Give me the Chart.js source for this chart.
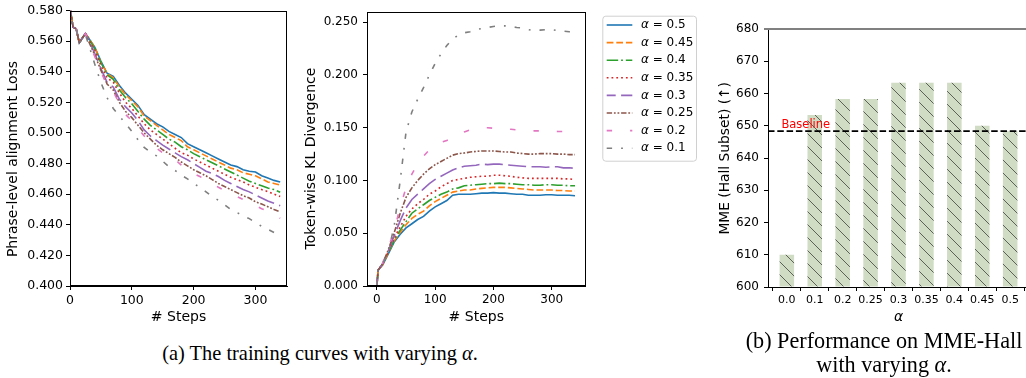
<!DOCTYPE html>
<html><head><meta charset="utf-8">
<script src="https://cdn.jsdelivr.net/npm/chart.js@4.4.0/dist/chart.umd.min.js"></script>
<style>
html,body{margin:0;padding:0;background:#fff;width:1026px;height:378px;overflow:hidden;position:relative;}
canvas{position:absolute;}
.cap{position:absolute;font-family:"Liberation Serif","Times New Roman",serif;color:#000;white-space:nowrap;transform:translateX(-50%);line-height:24px;text-align:center}
</style></head><body>
<canvas id="cLoss" width="300" height="330" style="left:0;top:0"></canvas>
<canvas id="cKL" width="420" height="330" style="left:290px;top:0"></canvas>
<canvas id="cMME" width="330" height="330" style="left:700px;top:0"></canvas>
<div class="cap" style="left:320px;top:341px;font-size:20.4px">(a) The training curves with varying <i>α</i>.</div>
<div class="cap" style="left:884px;top:329px;font-size:22.2px">(b) Performance on MME-Hall<br>with varying <i>α</i>.</div>
<script>
// ---------- data ----------
const alphaLabels = ['0.5','0.45','0.4','0.35','0.3','0.25','0.2','0.1'];

const lossSteps = [0,5,10,15,20,25,30,40,50,60,70,80,90,100,110,120,130,140,150,160,170,180,190,200,210,220,230,240,250,260,270,280,290,300,310,320,330,340];
const loss05  = [0.582,0.569,0.568,0.559,0.562,0.565,0.562,0.556,0.547,0.539,0.537,0.531,0.526,0.522,0.518,0.512,0.509,0.506,0.504,0.501,0.499,0.497,0.493,0.491,0.489,0.487,0.485,0.483,0.481,0.479,0.478,0.476,0.475,0.4745,0.472,0.4705,0.469,0.468];
const loss045 = [0.582,0.569,0.568,0.559,0.562,0.565,0.562,0.556,0.546,0.539,0.536,0.530,0.525,0.521,0.517,0.511,0.508,0.505,0.502,0.499,0.497,0.495,0.491,0.489,0.487,0.485,0.483,0.481,0.479,0.477,0.476,0.474,0.473,0.472,0.470,0.468,0.467,0.466];
const loss04  = [0.582,0.569,0.568,0.559,0.562,0.565,0.562,0.555,0.546,0.538,0.535,0.528,0.523,0.519,0.514,0.509,0.505,0.502,0.499,0.496,0.494,0.491,0.489,0.4865,0.4845,0.4825,0.4805,0.4785,0.4765,0.4745,0.4725,0.4705,0.4685,0.467,0.4655,0.464,0.463,0.4612];
const loss035 = [0.582,0.569,0.568,0.559,0.562,0.565,0.561,0.554,0.544,0.536,0.533,0.526,0.520,0.516,0.511,0.506,0.502,0.499,0.496,0.493,0.490,0.487,0.4855,0.483,0.481,0.479,0.477,0.475,0.473,0.471,0.4695,0.468,0.466,0.4645,0.463,0.4617,0.460,0.4585];
const loss03  = [0.582,0.569,0.568,0.559,0.562,0.565,0.561,0.552,0.542,0.533,0.530,0.522,0.517,0.513,0.508,0.502,0.498,0.495,0.492,0.4895,0.487,0.4845,0.4825,0.480,0.4775,0.475,0.4735,0.4715,0.469,0.467,0.465,0.463,0.4615,0.4595,0.4575,0.4555,0.454,0.4525];
const loss025 = [0.582,0.569,0.568,0.559,0.562,0.565,0.560,0.551,0.541,0.532,0.528,0.520,0.514,0.510,0.505,0.500,0.496,0.492,0.489,0.4865,0.484,0.481,0.4785,0.476,0.474,0.472,0.4695,0.467,0.465,0.463,0.461,0.459,0.4575,0.455,0.4535,0.4518,0.450,0.4485];
const loss02  = [0.582,0.569,0.568,0.559,0.562,0.565,0.560,0.550,0.540,0.531,0.527,0.519,0.512,0.508,0.503,0.498,0.494,0.490,0.487,0.4845,0.4825,0.479,0.476,0.4735,0.4715,0.4695,0.467,0.4645,0.4625,0.4605,0.4585,0.4565,0.4545,0.4525,0.4505,0.449,0.4465,0.4442];
const loss01  = [0.582,0.568,0.568,0.559,0.561,0.564,0.558,0.545,0.533,0.523,0.516,0.511,0.506,0.501,0.4955,0.4905,0.4875,0.485,0.4815,0.478,0.4755,0.4725,0.470,0.467,0.4645,0.4615,0.4585,0.456,0.453,0.450,0.448,0.446,0.444,0.4415,0.439,0.437,0.435,0.4325];

const klSteps = [0,2,10,20,30,40,50,60,70,80,90,100,110,120,130,140,150,160,170,180,190,200,210,220,230,240,250,260,270,280,290,300,310,320,330,340];
const kl05  = [0,0.015,0.020,0.031,0.042,0.049,0.055,0.059,0.063,0.066,0.071,0.075,0.078,0.081,0.086,0.087,0.087,0.087,0.0875,0.088,0.088,0.0885,0.088,0.088,0.0875,0.087,0.087,0.086,0.086,0.086,0.0865,0.0865,0.086,0.086,0.086,0.0855];
const kl045 = [0,0.015,0.020,0.032,0.043,0.051,0.058,0.064,0.068,0.071,0.076,0.080,0.083,0.086,0.089,0.090,0.091,0.091,0.092,0.0925,0.093,0.0935,0.0935,0.0935,0.093,0.0925,0.092,0.0915,0.091,0.091,0.091,0.091,0.0905,0.0905,0.090,0.090];
const kl04  = [0,0.015,0.021,0.032,0.044,0.053,0.061,0.069,0.073,0.077,0.081,0.084,0.087,0.089,0.092,0.093,0.095,0.0955,0.096,0.0965,0.097,0.097,0.0975,0.097,0.097,0.0965,0.096,0.096,0.0955,0.0955,0.096,0.096,0.0955,0.0955,0.095,0.095];
const kl035 = [0,0.015,0.021,0.033,0.046,0.056,0.066,0.073,0.078,0.082,0.087,0.090,0.094,0.097,0.100,0.101,0.102,0.103,0.1035,0.104,0.104,0.105,0.105,0.1045,0.104,0.103,0.1025,0.102,0.102,0.102,0.102,0.102,0.102,0.1015,0.1015,0.101];
const kl03  = [0,0.015,0.021,0.034,0.048,0.062,0.074,0.082,0.087,0.092,0.097,0.101,0.104,0.107,0.110,0.112,0.1135,0.114,0.1145,0.1155,0.115,0.1155,0.1155,0.115,0.1145,0.114,0.1135,0.113,0.113,0.113,0.1125,0.113,0.113,0.112,0.112,0.1115];
const kl025 = [0,0.015,0.021,0.035,0.051,0.069,0.084,0.093,0.100,0.106,0.111,0.115,0.118,0.121,0.124,0.1255,0.126,0.127,0.1275,0.128,0.128,0.128,0.1275,0.127,0.127,0.126,0.1255,0.125,0.125,0.1255,0.1255,0.1255,0.125,0.125,0.1245,0.1245];
const kl02  = [0,0.015,0.022,0.037,0.053,0.075,0.093,0.106,0.116,0.123,0.129,0.133,0.136,0.138,0.140,0.143,0.146,0.148,0.149,0.150,0.150,0.1495,0.149,0.149,0.1485,0.148,0.148,0.1475,0.147,0.147,0.147,0.147,0.1465,0.1465,0.1465,0.146];
const kl01  = [0,0.015,0.021,0.033,0.058,0.100,0.146,0.165,0.177,0.188,0.200,0.211,0.220,0.228,0.234,0.238,0.240,0.241,0.243,0.244,0.245,0.246,0.2465,0.2465,0.246,0.245,0.2445,0.243,0.242,0.2425,0.243,0.243,0.242,0.2415,0.241,0.241];

const stepTicks = [0,100,200,300];
const lossYTicks = [0.40,0.42,0.44,0.46,0.48,0.50,0.52,0.54,0.56,0.58];
const klYTicks = [0,0.05,0.10,0.15,0.20,0.25];

const mmeCats = ['0.0','0.1','0.2','0.25','0.3','0.35','0.4','0.45','0.5'];
const mmeScores = [610,653.33,658.33,658.33,663.33,663.33,663.33,650,648.33];
const mmeYTicks = [600,610,620,630,640,650,660,670,680];
const baselineScore = 648.33;

// ---------- styles ----------
const colors = ['#1f77b4','#ff7f0e','#2ca02c','#d62728','#9467bd','#8c564b','#e377c2','#7f7f7f'];
const dashes = [[],[6.7,2.9],[11.5,2.9,1.8,2.9],[1.8,3],[18,5.4],[5.4,1.8,1.8,1.8,1.8,1.8],[5.4,18],[5.4,9,1.8,9]];
const dashOffsets = [0,0,0,0,9,0,0,0];
const FONT = 'DejaVu Sans';

function makeLines(steps, series){
  return series.map((vals,i)=>({
    label:'α = '+alphaLabels[i],
    data: steps.map((s,k)=>({x:s,y:vals[k]})),
    borderColor: colors[i], backgroundColor: colors[i],
    borderWidth:1.6, borderDash: dashes[i], borderDashOffset: dashOffsets[i],
    borderCapStyle:'butt', pointRadius:0, tension:0, fill:false, order: 7-i
  }));
}

// ---------- plugins ----------
const frame = {id:'frame', afterDraw(chart, args, o){
  if(!o || !o.box) return;
  const {ctx, chartArea:a} = chart;
  ctx.save(); ctx.strokeStyle='#000'; ctx.lineWidth=1; ctx.setLineDash([]);
  const l=Math.round(a.left)+0.5, t=Math.round(a.top)+0.5, r=Math.round(a.right)-0.5, b=Math.round(a.bottom)-0.5;
  ctx.strokeRect(l,t,r-l,b-t);
  ctx.restore();
}};
const sideTitle = {id:'sideTitle', afterDraw(chart,args,o){
  if(!o || !o.text) return;
  const ctx=chart.ctx; ctx.save(); ctx.translate(o.x,o.y); ctx.rotate(-Math.PI/2);
  ctx.font=o.font; ctx.fillStyle='#000'; ctx.textAlign='center'; ctx.textBaseline='middle';
  ctx.fillText(o.text,0,0); ctx.restore();
}};
const lineLegend = {id:'lineLegend', afterDraw(chart,args,o){
  if(!o || !o.show) return;
  const ctx=chart.ctx; ctx.save();
  ctx.beginPath(); ctx.roundRect(o.x+0.5,o.y+0.5,o.w,o.h,3);
  ctx.fillStyle='rgba(255,255,255,0.8)'; ctx.fill();
  ctx.strokeStyle='#d0d0d0'; ctx.lineWidth=1; ctx.stroke();
  chart.data.datasets.forEach((ds,i)=>{
    const y=o.firstY+i*o.rowH;
    ctx.beginPath(); ctx.setLineDash(ds.borderDash||[]); ctx.lineDashOffset=ds.borderDashOffset||0;
    ctx.strokeStyle=ds.borderColor; ctx.lineWidth=ds.borderWidth; ctx.lineCap='butt';
    ctx.moveTo(o.lx0,y); ctx.lineTo(o.lx1,y); ctx.stroke();
    ctx.setLineDash([]);
    ctx.fillStyle='#000'; ctx.textBaseline='middle'; ctx.textAlign='left';
    ctx.font='italic '+o.fs+'px "'+FONT+'"';
    const g=ds.label.charAt(0); ctx.fillText(g,o.tx,y);
    const w=ctx.measureText(g).width;
    ctx.font=o.fs+'px "'+FONT+'"';
    ctx.fillText(ds.label.slice(1),o.tx+w,y);
  });
  ctx.restore();
}};
const baselinePlugin = {id:'baselineLine', afterDatasetsDraw(chart,args,o){
  if(!o || o.value==null) return;
  const {ctx, chartArea:a, scales} = chart;
  const y = scales.y.getPixelForValue(o.value);
  ctx.save(); ctx.strokeStyle='#000'; ctx.lineWidth=1.8; ctx.setLineDash([6.5,2.8]);
  ctx.beginPath(); ctx.moveTo(a.left,y); ctx.lineTo(a.right,y); ctx.stroke();
  ctx.setLineDash([]); ctx.fillStyle='#ff0000'; ctx.font='11.5px "'+FONT+'"';
  ctx.textAlign='left'; ctx.textBaseline='alphabetic';
  ctx.fillText(o.label, a.left+13.4, y-2.8);
  ctx.strokeStyle='#808080'; ctx.lineWidth=2;
  ctx.beginPath(); ctx.moveTo(64,Math.round(a.top)); ctx.lineTo(chart.width,Math.round(a.top)); ctx.stroke();
  ctx.restore();
}};

function hatchPattern(){
  const s=13, c=document.createElement('canvas'); c.width=s; c.height=s;
  const g=c.getContext('2d'); g.fillStyle='#d0dcc4'; g.fillRect(0,0,s,s);
  g.strokeStyle='#5b6157'; g.lineWidth=1;
  g.beginPath(); g.moveTo(-2,-2); g.lineTo(s+2,s+2);
  g.moveTo(-2,s-2); g.lineTo(2,s+2); g.moveTo(s-2,-2); g.lineTo(s+2,2); g.stroke();
  return g.createPattern(c,'repeat');
}

function axisCommon(size, pad){
  return {
    ticks:{font:{family:FONT,size:size}, color:'#000', padding:pad, maxRotation:0, autoSkip:false},
    grid:{display:true, drawOnChartArea:false, drawTicks:true, tickLength:4, tickWidth:1, tickColor:'#000', color:'#000'},
    border:{display:true, color:'#000', width:1}
  };
}

// ---------- chart (a) left: loss ----------
new Chart(document.getElementById('cLoss'), {
  type:'line',
  data:{datasets: makeLines(lossSteps,[loss05,loss045,loss04,loss035,loss03,loss025,loss02,loss01])},
  options:{
    responsive:false, animation:false, devicePixelRatio:1,
    layout:{padding:{top:10,right:13,left:0,bottom:0}},
    plugins:{legend:{display:false}, tooltip:{enabled:false},
      frame:{box:true},
      sideTitle:{text:'Phrase-level alignment Loss', x:13.5, y:159, font:'14px "'+FONT+'"'}},
    scales:{
      x:Object.assign(axisCommon(12.5,3),{type:'linear',min:0,max:351,
        afterBuildTicks:s=>{s.ticks=stepTicks.map(v=>({value:v}));},
        afterFit:s=>{s.height=44;},
        title:{display:true,text:'# Steps',color:'#000',font:{family:FONT,size:14},padding:{top:0,bottom:4}}}),
      y:Object.assign(axisCommon(12.5,3),{type:'linear',min:0.4,max:0.58,
        afterBuildTicks:s=>{s.ticks=lossYTicks.map(v=>({value:v}));},
        afterFit:s=>{s.width=70;}})
    }
  },
  plugins:[frame, sideTitle]
});
Chart.getChart('cLoss').options.scales.y.ticks.callback = v=>Number(v).toFixed(3);
Chart.getChart('cLoss').options.scales.x.ticks.callback = v=>String(v);
Chart.getChart('cLoss').update('none');

// ---------- chart (a) middle: KL ----------
new Chart(document.getElementById('cKL'), {
  type:'line',
  data:{datasets: makeLines(klSteps,[kl05,kl045,kl04,kl035,kl03,kl025,kl02,kl01])},
  options:{
    responsive:false, animation:false, devicePixelRatio:1,
    layout:{padding:{top:10,right:124.5,left:0,bottom:0}},
    plugins:{legend:{display:false}, tooltip:{enabled:false},
      frame:{box:true},
      sideTitle:{text:'Token-wise KL Divergence', x:21.5, y:158.5, font:'14px "'+FONT+'"'},
      lineLegend:{show:true, x:312.3, y:15.7, w:93.7, h:145, firstY:25, rowH:17.6, lx0:316.7, lx1:342.3, tx:351, fs:12}},
    scales:{
      x:Object.assign(axisCommon(12,3),{type:'linear',min:-17,max:358,
        afterBuildTicks:s=>{s.ticks=stepTicks.map(v=>({value:v}));},
        afterFit:s=>{s.height=44;},
        title:{display:true,text:'# Steps',color:'#000',font:{family:FONT,size:14},padding:{top:0,bottom:4}}}),
      y:Object.assign(axisCommon(12,5),{type:'linear',min:0,max:0.2595,
        afterBuildTicks:s=>{s.ticks=klYTicks.map(v=>({value:v}));},
        afterFit:s=>{s.width=77;}})
    }
  },
  plugins:[frame, sideTitle, lineLegend]
});
Chart.getChart('cKL').options.scales.y.ticks.callback = v=>Number(v).toFixed(3);
Chart.getChart('cKL').options.scales.x.ticks.callback = v=>String(v);
Chart.getChart('cKL').update('none');

// ---------- chart (b) right: MME bars ----------
new Chart(document.getElementById('cMME'), {
  type:'bar',
  data:{datasets:[{
    label:'MME (Hall Subset)',
    data: mmeScores.map((v,i)=>({x:i,y:v})),
    backgroundColor: hatchPattern(), borderWidth:0,
    categoryPercentage:1, barPercentage:0.52, base:600
  }]},
  options:{
    responsive:false, animation:false, devicePixelRatio:1,
    layout:{padding:{top:29,right:1,left:0,bottom:0}},
    plugins:{legend:{display:false}, tooltip:{enabled:false},
      sideTitle:{text:'MME (Hall Subset) (↑)', x:25, y:158.3, font:'13.8px "'+FONT+'"'},
      baselineLine:{value:baselineScore, label:'Baseline'}},
    scales:{
      x:Object.assign(axisCommon(11,3),{type:'linear',min:-0.675,max:8.675, offset:false,
        afterBuildTicks:s=>{s.ticks=mmeCats.map((c,i)=>({value:i}));},
        afterFit:s=>{s.height=43;},
        title:{display:true,text:'α',color:'#000',font:{family:FONT,size:14,style:'italic'},padding:{top:0,bottom:4}}}),
      y:Object.assign(axisCommon(12,5),{type:'linear',min:600,max:680,
        afterBuildTicks:s=>{s.ticks=mmeYTicks.map(v=>({value:v}));},
        afterFit:s=>{s.width=68;}})
    }
  },
  plugins:[sideTitle, baselinePlugin]
});
Chart.getChart('cMME').options.scales.x.ticks.callback = v=>mmeCats[Math.round(v)];
Chart.getChart('cMME').options.scales.y.ticks.callback = v=>String(v);
Chart.getChart('cMME').update('none');
</script>
</body></html>
